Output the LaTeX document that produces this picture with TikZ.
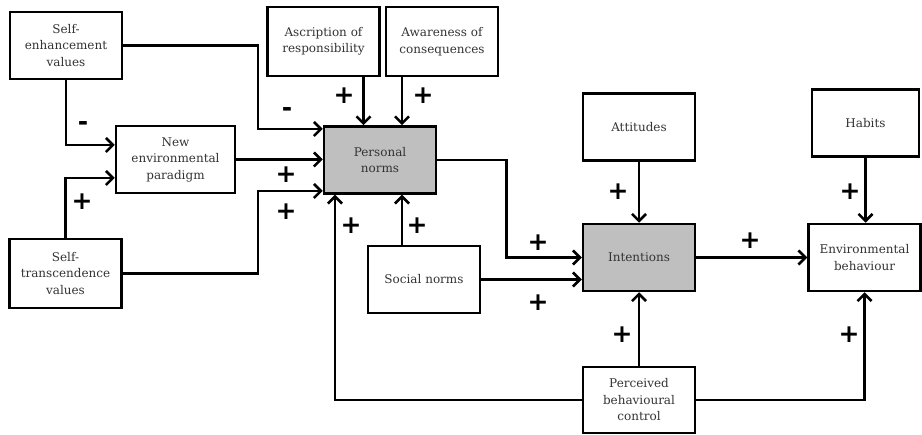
\documentclass[tikz,border=0pt]{standalone}
\usepackage{fontspec}
\setmainfont{DejaVu Serif}
\newfontfamily\signes{DejaVu Sans}
\usetikzlibrary{arrows.meta}

\begin{document}
\begin{tikzpicture}[x=1pt,y=-1pt]
\tikzset{boite/.style={draw, line width=2.5pt, minimum width=112pt, minimum height=67pt, align=center, inner sep=2pt, text=black!80, font=\fontsize{12}{16.5}\selectfont}}
\tikzset{grise/.style={boite, fill=black!25}}
\tikzset{fleche/.style={line width=2.6pt, -{Straight Barb[length=7pt,width=14pt]}}}
\tikzset{signe/.style={inner sep=0pt, font=\signes\bfseries\fontsize{25}{25}\selectfont}}
\useasboundingbox (0,0) rectangle (922,435);
\node[boite] (SE) at (66,45.5) {Self-\\enhancement\\values};
\node[boite, minimum width=119pt] (NEP) at (175.5,159.5) {New\\environmental\\paradigm};
\node[boite, minimum height=69pt] (ST) at (65.5,273.5) {Self-\\transcendence\\values};
\node[boite, minimum height=69pt] (AR) at (323.5,41.5) {Ascription of\\responsibility};
\node[boite, minimum height=69pt] (AC) at (442,41.5) {Awareness of\\consequences};
\node[grise] (PN) at (380,160) {Personal\\norms};
\node[boite] (SN) at (424,279.5) {Social norms};
\node[boite] (ATT) at (639,127) {Attitudes};
\node[grise] (INT) at (639,257.5) {Intentions};
\node[boite, minimum width=107pt] (HAB) at (865.5,123) {Habits};
\node[boite] (EB) at (864.5,257.5) {Environmental\\behaviour};
\node[boite, minimum height=66pt] (PBC) at (639,400) {Perceived\\behavioural\\control};
\coordinate (c1) at (258,129);
\coordinate (c2) at (258,191);
\draw[fleche] (SE.east) -| (c1) -- (c1 -| PN.west);
\draw[fleche] (SE.south) |- ([yshift=14.5pt]NEP.west);
\draw[fleche] (ST.north) |- ([yshift=-18.5pt]NEP.west);
\draw[fleche] (NEP.east) -- (NEP.east -| PN.west);
\draw[fleche] (ST.east) -| (c2) -- (c2 -| PN.west);
\draw[fleche] ([xshift=40pt]AR.south) -- ([xshift=40pt]AR.south |- PN.north);
\draw[fleche] ([xshift=-40pt]AC.south) -- ([xshift=-40pt]AC.south |- PN.north);
\draw[fleche] ([xshift=-22pt]SN.north) -- ([xshift=-22pt]SN.north |- PN.south);
\draw[fleche] (PBC.west) -| ([xshift=-45pt]PN.south);
\draw[fleche] (PN.east) -| ([xshift=-75pt]INT.west) -- (INT.west);
\draw[fleche] (SN.east) -- (SN.east -| INT.west);
\draw[fleche] (ATT.south) -- (INT.north);
\draw[fleche] (INT.east) -- (INT.east -| EB.west);
\draw[fleche] (HAB.south) -- (HAB.south |- EB.north);
\draw[fleche] (PBC.north) -- (INT.south);
\draw[fleche] (PBC.east) -| (EB.south);
\node[signe] (s1) at (287,112) {-};
\node[signe] (s2) at (83,126) {-};
\node[signe] (s3) at (82,202) {+};
\node[signe] (s4) at (286,175) {+};
\node[signe] (s5) at (286,212) {+};
\node[signe] (s6) at (344,96) {+};
\node[signe] (s7) at (423,96) {+};
\node[signe] (s8) at (351,226) {+};
\node[signe] (s9) at (417,226) {+};
\node[signe] (s10) at (538,243) {+};
\node[signe] (s11) at (538,303) {+};
\node[signe] (s12) at (618,192) {+};
\node[signe] (s13) at (750,241) {+};
\node[signe] (s14) at (850,192) {+};
\node[signe] (s15) at (622,335) {+};
\node[signe] (s16) at (849,335) {+};
\end{tikzpicture}
\end{document}
